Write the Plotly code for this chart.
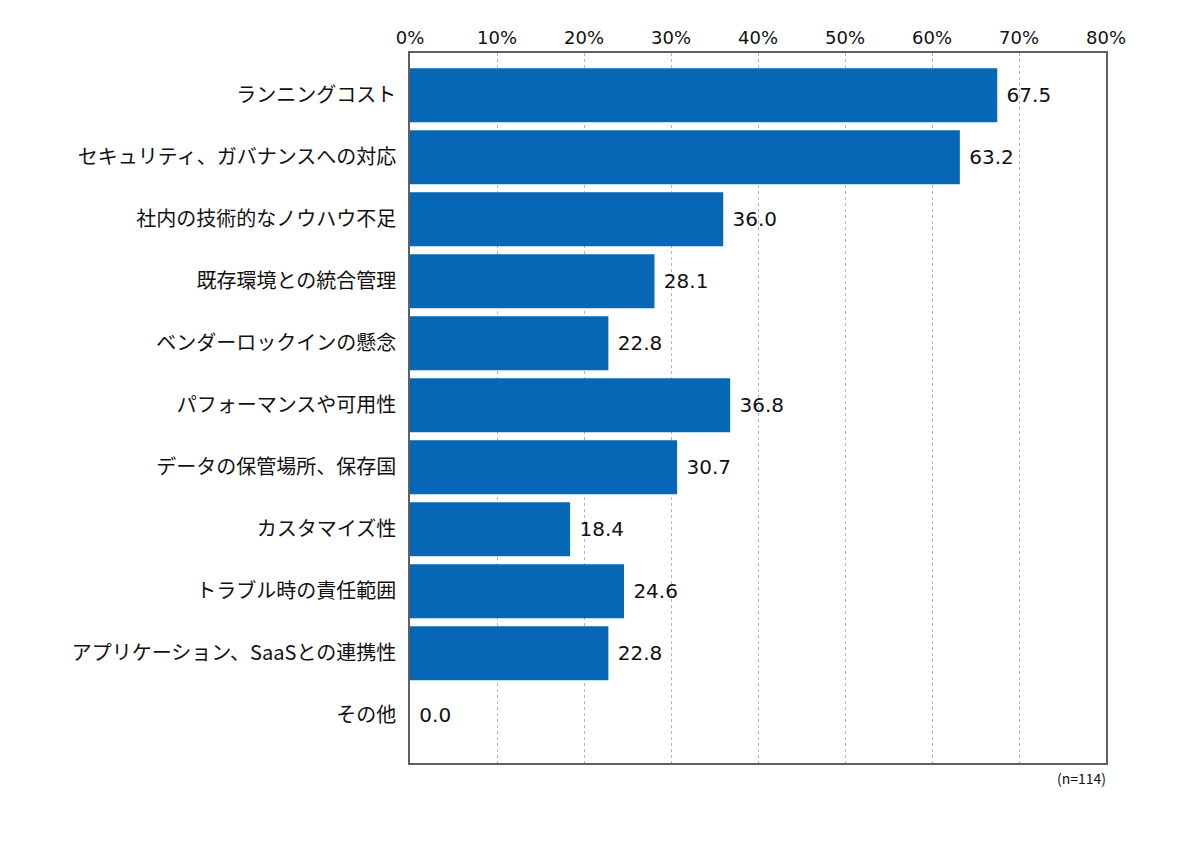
import plotly.graph_objects as go

categories = ["ランニングコスト", "セキュリティ、ガバナンスへの対応", "社内の技術的なノウハウ不足",
              "既存環境との統合管理", "ベンダーロックインの懸念", "パフォーマンスや可用性",
              "データの保管場所、保存国", "カスタマイズ性", "トラブル時の責任範囲",
              "アプリケーション、SaaSとの連携性", "その他"]
values = [67.5, 63.2, 36.0, 28.1, 22.8, 36.8, 30.7, 18.4, 24.6, 22.8, 0.0]
x_ticks = [0, 10, 20, 30, 40, 50, 60, 70, 80]
x_tick_labels = [f"{t}%" for t in x_ticks]
note = "(n=114)"

FONT = "Noto Sans CJK JP"
NUMFONT = "DejaVu Sans"

fig = go.Figure(go.Bar(
    y=categories, x=values, orientation="h",
    marker=dict(color="#0567b5", line=dict(width=0)),
    width=0.87,
    text=[f" {v:.1f}" for v in values], textposition="outside",
    textfont=dict(size=20, color="#111", family=NUMFONT),
    cliponaxis=False,
))

fig.update_layout(
    width=1200, height=846,
    margin=dict(l=402, r=102, t=45, b=91),
    plot_bgcolor="white", paper_bgcolor="white",
    font=dict(family=FONT, size=17, color="#111"),
    showlegend=False,
    xaxis=dict(side="top", range=[0, 80], tickvals=x_ticks, ticktext=x_tick_labels,
               automargin=False,
               showgrid=True, gridcolor="#b5b5b5", griddash="3px,3px", gridwidth=1,
               showline=True, linecolor="#606060", linewidth=1.5, mirror=True,
               zeroline=False, ticks="", tickfont=dict(size=18, color="#111", family=NUMFONT)),
    yaxis=dict(range=[10.77, -0.68], categoryorder="array", categoryarray=categories,
               automargin=False,
               showline=True, linecolor="#606060", linewidth=1.5, mirror=True,
               showgrid=False, ticks="", ticklabelstandoff=8,
               tickfont=dict(size=20, color="#111", family=FONT)),
    annotations=[dict(text=note, xref="paper", yref="paper", x=1.0, y=-0.004, xshift=2,
                      xanchor="right", yanchor="top", showarrow=False,
                      font=dict(size=14, color="#111", family=FONT))],
)

fig.write_html("out.html")
